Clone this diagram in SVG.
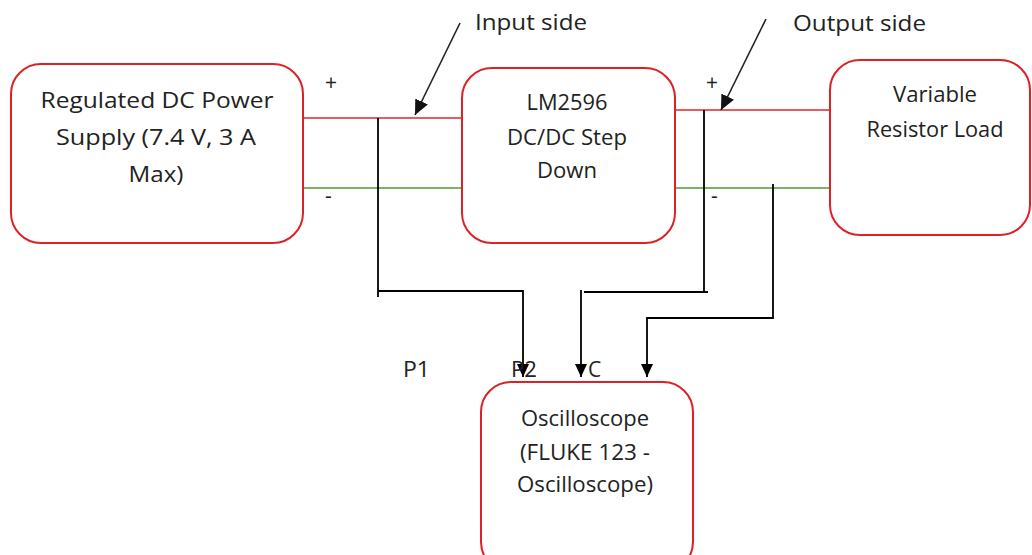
<svg xmlns="http://www.w3.org/2000/svg" width="1032" height="555" viewBox="0 0 1032 555">
<style>
.box{fill:#fff;stroke:#dc2127;stroke-width:2}
.t{font-family:"Open Sans","Liberation Sans",sans-serif;font-size:21px;fill:#222;text-anchor:middle}
.lbl{font-family:"Open Sans","Liberation Sans",sans-serif;font-size:21px;fill:#222}
.red{stroke:#e0262c;stroke-width:1.6;fill:none}
.grn{stroke:#4f9a32;stroke-width:1.6;fill:none}
.blk{stroke:#000;stroke-width:1.8;fill:none}
.ptr{stroke:#222;stroke-width:1.6;fill:none}
</style>
<defs>
<marker id="ah" markerUnits="userSpaceOnUse" markerWidth="14" markerHeight="14" refX="13" refY="6" orient="auto"><path d="M0,0 L13,6 L0,12 z" fill="#000"/></marker>
<marker id="ap" markerUnits="userSpaceOnUse" markerWidth="16" markerHeight="16" refX="15" refY="7" orient="auto"><path d="M0,0 L15,7 L0,14 z" fill="#111"/></marker>
</defs>
<rect width="1032" height="555" fill="#fff"/>
<g id="connectors">
<path class="red" d="M303,118 H462"/>
<path class="grn" d="M303,188 H462"/>
<path class="red" d="M675,110 H830"/>
<path class="grn" d="M675,188 H830"/>
<path class="blk" d="M378,118 V297"/>
<path class="blk" d="M378,291 H523 V377" marker-end="url(#ah)"/>
<path class="blk" d="M704,110 V292"/>
<path class="blk" d="M708,292 H584"/>
<path class="blk" d="M581,290 V377" marker-end="url(#ah)"/>
<path class="blk" d="M773,184 V318 H647 V377" marker-end="url(#ah)"/>
<path class="ptr" d="M460,23 L415,115" marker-end="url(#ap)"/>
<path class="ptr" d="M766,19 L721,110" marker-end="url(#ap)"/>
</g>
<g id="power-supply">
<rect class="box" x="11" y="64" width="292" height="179" rx="30"/>
<text class="t" x="157" y="108" textLength="233" lengthAdjust="spacingAndGlyphs">Regulated DC Power</text>
<text class="t" x="156" y="145" textLength="200" lengthAdjust="spacingAndGlyphs">Supply (7.4 V, 3 A</text>
<text class="t" x="156" y="182" textLength="55" lengthAdjust="spacingAndGlyphs">Max)</text>
</g>
<g id="lm2596">
<rect class="box" x="462" y="68" width="213" height="175" rx="30"/>
<text class="t" x="567" y="110" textLength="81" lengthAdjust="spacingAndGlyphs">LM2596</text>
<text class="t" x="567" y="145" textLength="120" lengthAdjust="spacingAndGlyphs">DC/DC Step</text>
<text class="t" x="567" y="178" textLength="60" lengthAdjust="spacingAndGlyphs">Down</text>
</g>
<g id="load">
<rect class="box" x="830" y="60" width="200" height="175" rx="30"/>
<text class="t" x="935" y="102" textLength="84" lengthAdjust="spacingAndGlyphs">Variable</text>
<text class="t" x="935" y="137" textLength="137" lengthAdjust="spacingAndGlyphs">Resistor Load</text>
</g>
<g id="oscilloscope">
<rect class="box" x="481" y="382" width="212" height="190" rx="30"/>
<text class="t" x="585" y="426" textLength="128" lengthAdjust="spacingAndGlyphs">Oscilloscope</text>
<text class="t" x="585" y="460" textLength="130" lengthAdjust="spacingAndGlyphs">(FLUKE 123 -</text>
<text class="t" x="585" y="492" textLength="136" lengthAdjust="spacingAndGlyphs">Oscilloscope)</text>
</g>
<g id="labels">
<text class="lbl" x="475" y="30" font-size="22" textLength="112" lengthAdjust="spacingAndGlyphs">Input side</text>
<text class="lbl" x="793" y="31" font-size="22" textLength="133" lengthAdjust="spacingAndGlyphs">Output side</text>
<text class="lbl" x="325" y="90" font-size="18">+</text>
<text class="lbl" x="325" y="203" font-size="18">-</text>
<text class="lbl" x="706" y="90" font-size="18">+</text>
<text class="lbl" x="711" y="203" font-size="18">-</text>
<text class="lbl" x="403" y="377" textLength="27" lengthAdjust="spacingAndGlyphs">P1</text>
<text class="lbl" x="511" y="377" textLength="26" lengthAdjust="spacingAndGlyphs">P2</text>
<text class="lbl" x="588" y="377">C</text>
</g>
</svg>
